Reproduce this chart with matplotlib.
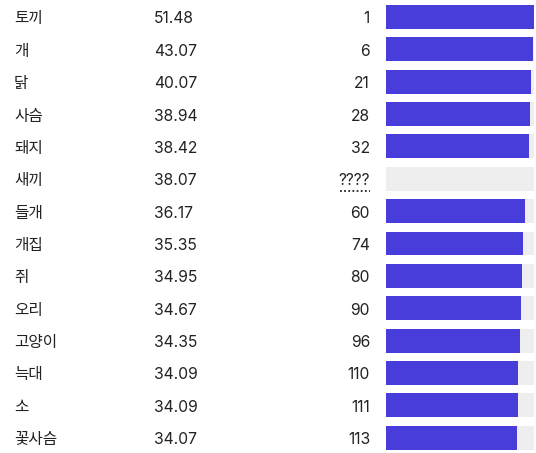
import matplotlib
matplotlib.use("Agg")
import matplotlib.pyplot as plt
from matplotlib.transforms import blended_transform_factory

plt.rcParams['font.family'] = ['Inter', 'Noto Sans CJK KR', 'DejaVu Sans']

words = ["토끼", "개", "닭", "사슴", "돼지", "새끼", "들개", "개집", "쥐", "오리", "고양이", "늑대", "소", "꽃사슴"]
scores = ["51.48", "43.07", "40.07", "38.94", "38.42", "38.07", "36.17", "35.35", "34.95", "34.67", "34.35", "34.09", "34.09", "34.07"]
ranks = ["1", "6", "21", "28", "32", None, "60", "74", "80", "90", "96", "110", "111", "113"]
bar_fill = [1.0, 0.993, 0.980, 0.973, 0.966, 0.0, 0.939, 0.926, 0.919, 0.912, 0.905, 0.892, 0.892, 0.885]

W, H = 536, 453
fig = plt.figure(figsize=(W / 100, H / 100), dpi=100)
bx0, bw = 386, 148
ax = fig.add_axes([bx0 / W, 0.0, bw / W, 1.0])
ax.set_xlim(0, 1)
ax.set_ylim(len(words) - 0.5 - 0.025, -0.5 - 0.025)
ax.axis('off')

ys = list(range(len(words)))
ax.barh(ys, [1.0] * len(words), height=0.74, color='#eeeeee', zorder=1)
ax.barh(ys, bar_fill, height=0.74, color='#483ddb', zorder=2)

fig_x = blended_transform_factory(fig.transFigure, ax.transData)
tc = '#222222'
fs = 11.3
dy = 0.06
for i, (w, s, r) in enumerate(zip(words, scores, ranks)):
    fig.text(14 / W, i + dy, w, transform=fig_x, ha='left', va='center', fontsize=fs,
             color=tc, family=['Noto Sans CJK KR', 'DejaVu Sans'])
    fig.text(154 / W, i + dy, s, transform=fig_x, ha='left', va='center', fontsize=fs, color=tc)
    if r is None:
        fig.text(370 / W, i + dy, "????", transform=fig_x, ha='right', va='center', fontsize=fs, color=tc)
        ax.plot([(340 - bx0) / bw, (370 - bx0) / bw], [i + 0.38, i + 0.38],
                transform=ax.transData, color=tc, linestyle=(0, (1, 1.3)), linewidth=1.3,
                clip_on=False)
    else:
        fig.text(370 / W, i + dy, r, transform=fig_x, ha='right', va='center', fontsize=fs, color=tc)

fig.savefig("out.png", dpi=100)
